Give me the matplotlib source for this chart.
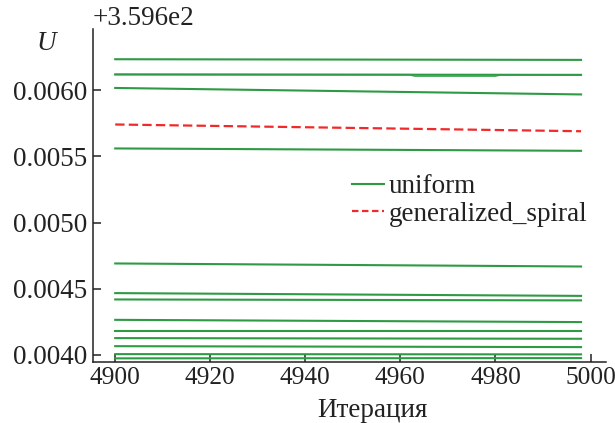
import matplotlib
matplotlib.use("Agg")
import matplotlib.pyplot as plt
import matplotlib.ticker as mticker

plt.rcParams['font.family'] = 'serif'
plt.rcParams['font.serif'] = ['Liberation Serif', 'DejaVu Serif']
plt.rcParams['font.size'] = 19.5

# U at the first and last recorded iteration for each uniform run
iters = [4900, 4998]
uniform_first = [359.606234, 359.606119, 359.606017, 359.605560, 359.604691,
                 359.604467, 359.604419, 359.604265, 359.604180, 359.604127,
                 359.604066, 359.604006, 359.603974]
uniform_last = [359.606229, 359.606116, 359.605968, 359.605542, 359.604668,
                359.604446, 359.604412, 359.604248, 359.604180, 359.604122,
                359.604059, 359.604004, 359.603976]

# one uniform run that dips briefly near 4962-4980
dip_iters = [4900, 4962, 4963, 4980, 4981, 4998]
dip_u = [359.606119, 359.606117, 359.606106, 359.606106, 359.606116, 359.606116]

spiral_iters = [4900, 4998]
spiral_u = [359.605741, 359.605690]

y_ticks = [359.604, 359.6045, 359.605, 359.6055, 359.606]

green = '#2e9a44'
red = '#f02a2a'
ink = '#222222'

fig = plt.figure(figsize=(6.15, 4.23), dpi=100)
ax = fig.add_axes([0.151, 0.145, 0.834, 0.786])

for i, (u0, u1) in enumerate(zip(uniform_first, uniform_last)):
    ax.plot(iters, [u0, u1], color=green, lw=1.5,
            label='uniform' if i == 0 else None)
ax.plot(dip_iters, dip_u, color=green, lw=1.2, alpha=0.8)
ax.plot(spiral_iters, spiral_u, color=red, lw=1.6, linestyle='--',
        dashes=(4.2, 1.9), label='generalized_spiral')

ax.set_xlim(4895.3, 5003.2)
ax.set_ylim(359.603949, 359.606461)
ax.set_xticks([4900, 4920, 4940, 4960, 4980, 5000])
ax.set_yticks(y_ticks)
fmt = mticker.ScalarFormatter(useOffset=359.6)
ax.yaxis.set_major_formatter(fmt)

for side in ['top', 'right']:
    ax.spines[side].set_visible(False)
for side in ['left', 'bottom']:
    ax.spines[side].set_color(ink)
    ax.spines[side].set_linewidth(1.1)
ax.tick_params(direction='in', length=5.5, width=1.1, color=ink,
               labelcolor=ink, pad=4)
ax.tick_params(axis='x', labelsize=18.3)
ax.yaxis.get_offset_text().set_color(ink)

ax.set_xlabel('Итерация', color=ink)
ax.xaxis.set_label_coords(0.545, -0.11)
ax.set_ylabel('U', rotation=0, style='italic', color=ink)
ax.yaxis.set_label_coords(-0.09, 0.918)

leg = ax.legend(loc='center left', bbox_to_anchor=(0.505, 0.485),
                frameon=False, borderpad=0, borderaxespad=0,
                handlelength=1.2, handletextpad=0.15, labelspacing=0.1)
leg.get_lines()[1].set_dashes((2.9, 1.6))
for t in leg.get_texts():
    t.set_color(ink)

fig.savefig('out.png', dpi=100)
